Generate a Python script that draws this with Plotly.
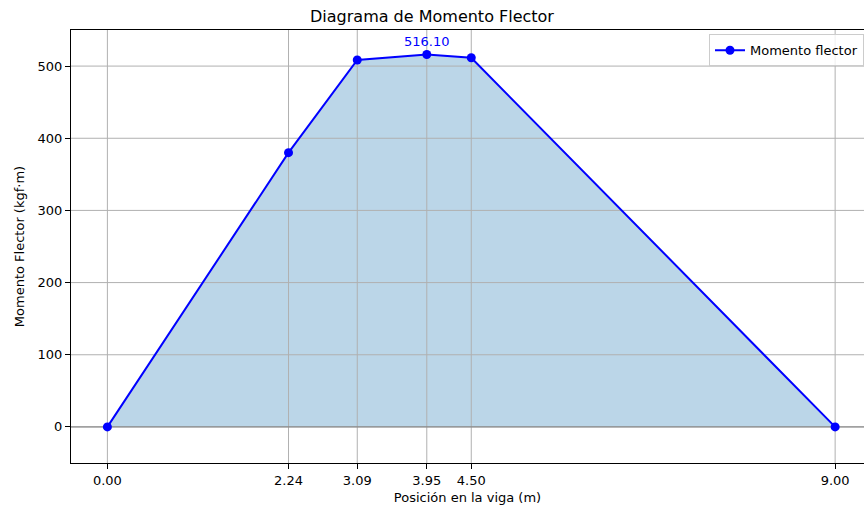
import plotly.graph_objects as go

positions = [0.00, 2.24, 3.09, 3.95, 4.50, 9.00]
moments = [0.0, 380.0, 508.5, 516.10, 511.5, 0.0]
tick_labels = ["0.00", "2.24", "3.09", "3.95", "4.50", "9.00"]
y_ticks = [0, 100, 200, 300, 400, 500]

X_RANGE = [-0.45, 9.357]
Y_RANGE = [-50, 550]
FONT = "DejaVu Sans"
GRID = "#b0b0b0"

fig = go.Figure()
# filled area under the curve
fig.add_trace(go.Scatter(x=positions, y=[0]*len(positions), mode="lines",
                         line=dict(width=0), showlegend=False, hoverinfo="skip"))
fig.add_trace(go.Scatter(x=positions, y=moments, mode="lines", fill="tonexty",
                         fillcolor="rgba(31,119,180,0.3)", line=dict(width=0),
                         showlegend=False, hoverinfo="skip"))
# grid above the fill, below the line
for xv in positions:
    fig.add_trace(go.Scatter(x=[xv, xv], y=Y_RANGE, mode="lines",
                             line=dict(color=GRID, width=1), showlegend=False, hoverinfo="skip"))
for yv in y_ticks:
    fig.add_trace(go.Scatter(x=X_RANGE, y=[yv, yv], mode="lines",
                             line=dict(color=GRID, width=1), showlegend=False, hoverinfo="skip"))
# zero line
fig.add_trace(go.Scatter(x=X_RANGE, y=[0, 0], mode="lines",
                         line=dict(color="#808080", width=1), showlegend=False, hoverinfo="skip"))
# main curve
fig.add_trace(go.Scatter(x=positions, y=moments, mode="lines+markers",
                         name="Momento flector",
                         line=dict(color="blue", width=2),
                         marker=dict(color="blue", size=9)))

imax = max(range(len(moments)), key=lambda i: moments[i])
fig.add_annotation(x=positions[imax], y=moments[imax], text=f"{moments[imax]:.2f}",
                   showarrow=False, yshift=13, font=dict(color="blue", size=13, family=FONT))

fig.update_layout(
    width=864, height=506,
    margin=dict(l=71, r=0, t=30, b=43),
    plot_bgcolor="white", paper_bgcolor="white",
    font=dict(family=FONT, size=13, color="black"),
    title=dict(text="Diagrama de Momento Flector", x=0.5, xanchor="center",
               y=1 - 16/506, yanchor="middle", font=dict(size=16, family=FONT)),
    legend=dict(x=1.0, y=0.99, xanchor="right", yanchor="top", itemwidth=30,
                bgcolor="rgba(255,255,255,0.8)", bordercolor="#cccccc", borderwidth=1,
                font=dict(size=13)),
    xaxis=dict(range=X_RANGE, tickvals=positions, ticktext=tick_labels,
               showgrid=False,
               showline=True, linecolor="black", linewidth=1, mirror=True,
               ticks="outside", ticklen=5, tickcolor="black", zeroline=False,
               title=dict(text="Posición en la viga (m)", standoff=6, font=dict(size=13))),
    yaxis=dict(range=Y_RANGE, tickvals=y_ticks,
               showgrid=False,
               showline=True, linecolor="black", linewidth=1,
               ticks="outside", ticklen=5, tickcolor="black", zeroline=False,
               title=dict(text="Momento Flector (kgf·m)", standoff=10, font=dict(size=13))),
)

fig.write_html("out.html", config={"displayModeBar": False},
               post_script="document.body.style.margin='0';document.body.style.overflow='hidden';")
